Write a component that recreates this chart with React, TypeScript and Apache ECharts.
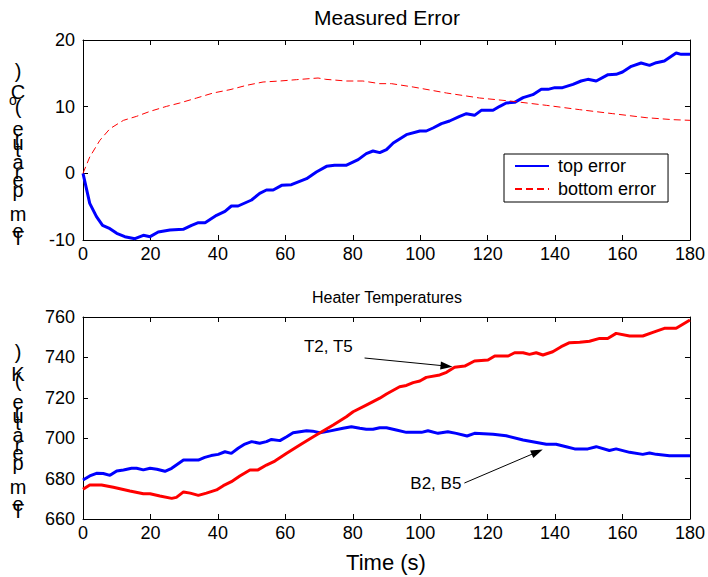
import React, { useEffect, useRef } from "react";
import * as echarts from "echarts";

// ---- Measured Error (top) ----
const topErrT = [0,2,4,5.8,8,10,12.4,15.4,17.9,19.9,22.3,25.8,29.7,32.2,34.2,36.2,39.6,42.1,44,46,50,52.4,54.4,56.4,58.9,61.8,66.3,69.2,72.2,74.6,78,81.6,84,86,88,90,92,95.9,99.9,101.8,103.8,106.3,108.7,111.7,113.7,116.1,118.1,121.6,123.6,125.5,128,130.5,133.4,135.9,137.9,139.9,142.2,145.3,147.7,149.7,152.2,155.7,158.1,160,162.6,165.5,168,170,172.4,175.9,177.4,180];
const topErrV = [0,-4.5,-6.5,-7.8,-8.3,-9,-9.5,-9.8,-9.3,-9.5,-8.8,-8.5,-8.4,-7.8,-7.4,-7.4,-6.3,-5.7,-4.9,-4.9,-4.0,-3.0,-2.5,-2.5,-1.8,-1.7,-0.8,0.2,1.05,1.2,1.2,2.05,2.95,3.35,3.1,3.55,4.55,5.8,6.35,6.35,6.8,7.45,7.85,8.55,8.95,8.7,9.45,9.45,10.05,10.55,10.65,11.35,11.8,12.6,12.6,12.85,12.85,13.35,13.85,14.1,13.85,14.8,14.85,15.2,16.05,16.55,16.2,16.6,16.85,18.05,17.85,17.85];
const botErrT = [0,2,5,8,12,15.9,19.9,24.8,28.7,33.7,38.6,43.6,48.5,53.4,58.4,63.3,69.7,72,78,83,88,91.5,97.9,107.8,117.6,127.5,137.4,147.3,157.1,167,174.9,180];
const botErrV = [0,2.45,4.95,6.7,7.95,8.55,9.3,10.05,10.55,11.3,12.05,12.55,13.2,13.7,13.85,14.05,14.3,14.1,13.85,13.85,13.45,13.45,12.95,12.05,11.3,10.8,10.2,9.55,8.95,8.35,8.05,7.95];

// ---- Heater Temperatures (bottom) ----
const bT = [0,2,4,6,8,10,12,14.4,15.9,17.9,19.9,21.9,24.3,26.3,29.8,31.8,34.2,36.1,38,40.1,42.1,44,46,48,50,52.4,54.4,55.9,58.4,60.4,62.3,66.3,68.1,70.2,73,77.1,79.6,82.1,84,86,88,90,92.9,95.9,100.4,102.3,105.3,108.2,110.7,113.9,116.1,121.6,125.5,130.5,137.4,140.3,143.3,145.8,149.7,152.2,156.1,158.1,162.1,166,168,170,173.9,180];
const bV = [679.3,681.3,682.6,682.5,681.6,683.8,684.3,685.1,685.1,684.3,685.1,684.6,683.6,685.1,689.2,689.2,689.2,690.5,691.4,692,693.3,692.5,695,697.1,698.3,697.5,698.3,699.4,698.8,700.7,702.7,703.7,703.5,702.7,703.5,704.9,705.7,704.9,704.4,704.4,705.2,705.2,704.1,702.9,702.9,703.7,702.4,703.2,702.4,701.1,702.4,701.9,701.2,699.1,697,697,695.8,694.7,694.7,695.8,693.9,694.7,693,692,692.7,692,691.3,691.3];
const tT = [0,2,5.5,9,13.9,17.9,19.9,22.8,26.3,27.7,29.8,31.8,34.2,36.6,39.6,41.6,44,46.5,49.5,51.9,54.4,56.9,60.4,64.3,68.3,74.2,78.1,80.1,84,88,90,93.9,95.9,97.9,99.9,101.8,105.8,107.8,110.2,113.2,116.1,120.1,122.1,126.1,128,130.5,132.4,134.4,136.4,139.3,141.8,144.3,147.3,150.2,153.2,155.6,158.1,162.1,166,169,172.4,175.9,180];
const tV = [674.7,676.8,676.8,675.7,673.9,672.5,672.5,671.4,670.2,670.7,673.4,672.8,671.7,672.8,674.4,676.5,678.5,681.3,684.3,684.3,686.7,688.7,692.5,696.6,700.7,706.5,710.6,713.1,716.4,719.8,721.9,725.5,726.1,727.5,728.3,730.1,731.3,732.6,735.1,735.7,738.2,738.7,740.7,740.7,742.3,742.3,741.5,742.3,741.2,742.8,745.3,747.3,747.5,748,749.4,749.4,751.9,750.6,750.6,752.4,754.4,754.4,758.5];

// annotations (data coordinates)
const annoT = { text: "T2, T5", at: [80, 745.5], from: [83.5, 739.7], to: [107.8, 735.7] };
const annoB = { text: "B2, B5", at: [112.2, 677.8], from: [113.1, 677.8], to: [134.7, 693.2] };

const topLabelChars: [string, number][] = [["T",238],["e",231],["m",214],["p",190],["e",180],["r",172],["a",162],["t",150],["u",143],["r",138],["e",129],["(",107],["o",100],["C",92],[")",71]];
const botLabelChars: [string, number][] = [["T",511],["e",504],["m",487],["p",463],["e",453],["r",445],["a",435],["t",423],["u",416],["r",411],["e",402],["(",380],["K",374],[")",352]];

const FONT = "'Liberation Sans', Arial, Helvetica, sans-serif";
const TICK_FS = 18;
const pairs = (xs: number[], ys: number[]) => xs.map((x, i) => [x, ys[i]]);

function xAx(grid: number, top: boolean) {
  return {
    gridIndex: grid, type: "value", min: 0, max: 180, interval: 20,
    position: top ? "top" : "bottom",
    axisLine: { show: true, onZero: false, lineStyle: { color: "#000", width: 1 } },
    axisTick: { show: true, inside: true, length: 5, lineStyle: { color: "#000" } },
    axisLabel: { show: !top, color: "#000", fontSize: TICK_FS, fontFamily: FONT, margin: 5 },
    splitLine: { show: false },
  };
}
function yAx(grid: number, right: boolean, min: number, max: number, interval: number) {
  return {
    gridIndex: grid, type: "value", min, max, interval,
    position: right ? "right" : "left",
    axisLine: { show: true, onZero: false, lineStyle: { color: "#000", width: 1 } },
    axisTick: { show: true, inside: true, length: 5, lineStyle: { color: "#000" } },
    axisLabel: { show: !right, color: "#000", fontSize: TICK_FS, fontFamily: FONT, margin: 8 },
    splitLine: { show: false },
  };
}

export default function App() {
  const ref = useRef<HTMLDivElement>(null);
  useEffect(() => {
    if (!ref.current) return;
    const chart = echarts.init(ref.current, undefined, { renderer: "svg" });
    const labelGraphics = [
      ...topLabelChars.map(([c, y]) => ({
        type: "text", x: c === "o" ? 13 : 18, y,
        style: { text: c, fill: "#000", font: `${c === "o" ? 14 : 20}px ${FONT}`, textAlign: "center", textVerticalAlign: "middle" },
      })),
      ...botLabelChars.map(([c, y]) => ({
        type: "text", x: 18, y,
        style: { text: c, fill: "#000", font: `20px ${FONT}`, textAlign: "center", textVerticalAlign: "middle" },
      })),
    ];
    chart.setOption({
      animation: false,
      backgroundColor: "#fff",
      textStyle: { fontFamily: FONT },
      grid: [
        { left: 83, top: 40, width: 608, height: 200 },
        { left: 83, top: 317, width: 608, height: 202 },
      ],
      xAxis: [xAx(0, false), xAx(0, true), xAx(1, false), xAx(1, true)],
      yAxis: [yAx(0, false, -10, 20, 10), yAx(0, true, -10, 20, 10), yAx(1, false, 660, 760, 20), yAx(1, true, 660, 760, 20)],
      legend: {
        data: ["top error", "bottom error"],
        orient: "vertical", left: 504, top: 154,
        backgroundColor: "#fff", borderColor: "#000", borderWidth: 1, borderRadius: 0,
        padding: [3, 12, 4, 10], itemWidth: 34, itemHeight: 14, itemGap: 5,
        itemStyle: { opacity: 0 },
        textStyle: { color: "#000", fontSize: 18, fontFamily: FONT, padding: [0, 0, 0, 4] },
        selectedMode: false,
      },
      graphic: [
        { type: "text", x: 387, y: 17, style: { text: "Measured Error", fill: "#000", font: `21px ${FONT}`, textAlign: "center", textVerticalAlign: "middle" } },
        { type: "text", x: 387, y: 297, style: { text: "Heater Temperatures", fill: "#000", font: `16px ${FONT}`, textAlign: "center", textVerticalAlign: "middle" } },
        { type: "text", x: 386, y: 562, style: { text: "Time (s)", fill: "#000", font: `22px ${FONT}`, textAlign: "center", textVerticalAlign: "middle" } },
        ...labelGraphics,
      ],
      series: [
        {
          name: "top error", type: "line", xAxisIndex: 0, yAxisIndex: 0, symbol: "none",
          data: pairs(topErrT, topErrV), lineStyle: { color: "#0000ff", width: 3 }, itemStyle: { color: "#0000ff" },
        },
        {
          name: "bottom error", type: "line", xAxisIndex: 0, yAxisIndex: 0, symbol: "none",
          data: pairs(botErrT, botErrV), lineStyle: { color: "#ff0000", width: 1, type: [7, 4] }, itemStyle: { color: "#ff0000" },
        },
        {
          name: "B2, B5", type: "line", xAxisIndex: 2, yAxisIndex: 2, symbol: "none",
          data: pairs(bT, bV), lineStyle: { color: "#0000ff", width: 3 }, itemStyle: { color: "#0000ff" },
        },
        {
          name: "T2, T5", type: "line", xAxisIndex: 2, yAxisIndex: 2, symbol: "none",
          data: pairs(tT, tV), lineStyle: { color: "#ff0000", width: 3 }, itemStyle: { color: "#ff0000" },
        },
        {
          name: "annotation arrows", type: "line", xAxisIndex: 2, yAxisIndex: 2, symbol: "none",
          data: [], itemStyle: { color: "#000" }, lineStyle: { color: "#000" },
          markLine: {
            silent: true, symbol: ["none", "triangle"], symbolSize: [8, 12],
            lineStyle: { color: "#000", width: 1, type: "solid" },
            itemStyle: { color: "#000" },
            label: { show: false },
            data: [
              [{ coord: annoT.from }, { coord: annoT.to }],
              [{ coord: annoB.from }, { coord: annoB.to }],
            ],
          },
        },
        {
          name: "annotations", type: "scatter", xAxisIndex: 2, yAxisIndex: 2, silent: true,
          symbol: "circle", symbolSize: 0, itemStyle: { color: "#000" },
          data: [
            { value: annoT.at, label: { formatter: annoT.text } },
            { value: annoB.at, label: { formatter: annoB.text } },
          ],
          label: { show: true, position: "left", distance: 0, color: "#000", opacity: 1, textBorderWidth: 0, fontSize: 17, fontFamily: FONT },
        },
      ],
    });
    return () => chart.dispose();
  }, []);
  return <div ref={ref} style={{ position: "fixed", left: 0, top: 0, width: 708, height: 577 }} />;
}
